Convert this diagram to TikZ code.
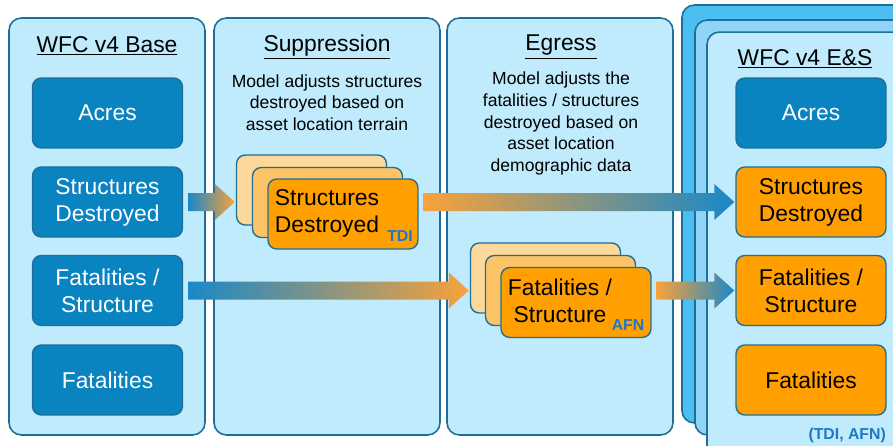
\documentclass[tikz,border=0pt]{standalone}
\usepackage{fontspec}
\setmainfont{Liberation Sans}
\usetikzlibrary{calc}

\definecolor{panelfill}{HTML}{BFEBFC}
\definecolor{edgeblue}{HTML}{1F6E98}
\definecolor{basefill}{HTML}{0A84C1}
\definecolor{orangefill}{HTML}{FFA000}
\definecolor{cardmid}{HTML}{FDC467}
\definecolor{cardback}{HTML}{FDD89B}
\definecolor{esback}{HTML}{4BBEF2}
\definecolor{esmid}{HTML}{8FD6F6}
\definecolor{arrblue}{HTML}{1A88C8}
\definecolor{arrorange}{HTML}{F9A23A}
\definecolor{tagblue}{HTML}{1F78C1}

% shaded block arrow between two nodes, kept on the level of a row node
\newcommand{\fatarrow}[5]{%
  \coordinate (fa-s) at ($(#1.east |- #3.center)+(5,0)$);
  \coordinate (fa-t) at ($(#2.west |- #3.center)+(-1,0)$);
  \shade[left color=#4, right color=#5]
    ($(fa-s)+(0,-9)$) -- ($(fa-t)+(-20,-9)$) -- ($(fa-t)+(-20,-18)$) -- (fa-t)
    -- ($(fa-t)+(-20,18)$) -- ($(fa-t)+(-20,9)$) -- ($(fa-s)+(0,9)$) -- cycle;
}

\tikzset{
  panel/.style={draw=edgeblue, fill=panelfill, line width=0.9pt, rounded corners=7pt,
    minimum width=3.92cm, minimum height=8.34cm},
  box/.style={draw=edgeblue, line width=0.8pt, rounded corners=5pt, minimum width=3cm,
    minimum height=1.4cm, align=center, font=\fontsize{13}{15.3}\selectfont},
  basebox/.style={box, fill=basefill, text=white},
  esbox/.style={box, fill=orangefill, text=black},
  card/.style={box, inner sep=0pt},
  title/.style={font=\fontsize{13}{15}\selectfont},
  note/.style={font=\fontsize{10}{12.3}\selectfont, align=center},
  tag/.style={font=\bfseries\fontsize{9}{10}\selectfont, text=tagblue},
}

\begin{document}
\begin{tikzpicture}[x=0.02cm, y=-0.02cm]
  \useasboundingbox (0,0) rectangle (893,446);
  \clip (0,0) rectangle (893,446);
  \fill[white] (0,0) rectangle (893,446);

  % panels
  \node[panel] (base) at (107,226.5) {};
  \node[panel, minimum width=4.52cm] (supp) at (327,226.5) {};
  \node[panel, minimum width=4.52cm] (egr) at (560,226.5) {};
  \node[panel, fill=esback, minimum width=4.46cm, minimum height=8.36cm] (esA) at (793.5,214) {};
  \node[panel, fill=esmid, minimum width=4.46cm, minimum height=8.3cm] (esB) at (806.5,227.5) {};
  \node[panel, minimum width=4.46cm, minimum height=8.76cm] (esC) at (818.5,251) {};

  % titles and notes
  \node[title] (baseT) at (107,46) {\underline{WFC v4 Base}};
  \node[title] (suppT) at (327,47) {\underline{Suppression}};
  \node[title] (egrT) at (561,47) {\underline{Egress}};
  \node[title] (esT) at (805,59) {\underline{WFC v4 E\&S}};
  \node[note] (suppN) at (327,102.5) {Model adjusts structures\\destroyed based on\\asset location terrain};
  \node[note] (egrN) at (561,123.5) {Model adjusts the\\fatalities / structures\\destroyed based on\\asset location\\demographic data};

  % base and E&S rows
  \foreach \n/\y/\t in {1/113/Acres, 2/202/{Structures\\Destroyed},
      3/290.5/{Fatalities /\\Structure}, 4/380/Fatalities} {
    \node[basebox] (b\n) at (107.5,\y) {\t};
  }
  \node[basebox] (e1) at (811,113) {Acres};
  \foreach \n/\y/\t in {2/202/{Structures\\Destroyed},
      3/290.5/{Fatalities /\\Structure}, 4/380/Fatalities} {
    \node[esbox] (e\n) at (811,\y) {\t};
  }
  \node[tag, anchor=east] (esTag) at (892,435) {(TDI, AFN)};

  % suppression stack
  \node[card, fill=cardback] (sA) at (311.5,190) {};
  \node[card, fill=cardmid] (sB) at (327.5,202.5) {};
  \node[card, fill=orangefill] (sC) at (343,214) {};
  \node[align=center, font=\fontsize{13}{15.3}\selectfont] (sTxt) at (327,213) {Structures\\Destroyed};
  \node[tag] (sTag) at (400,236) {TDI};

  % egress stack
  \node[card, fill=cardback] (gA) at (545.5,278) {};
  \node[card, fill=cardmid] (gB) at (560.5,290.5) {};
  \node[card, fill=orangefill] (gC) at (576,302.5) {};
  \node[align=center, font=\fontsize{13}{15.3}\selectfont] (gTxt) at (560,301) {Fatalities /\\Structure};
  \node[tag] (gTag) at (628,325) {AFN};

  % arrows
  \fatarrow{b2}{sA}{b2}{arrblue}{arrorange}
  \fatarrow{sC}{e2}{e2}{arrorange}{arrblue}
  \fatarrow{b3}{gA}{b3}{arrblue}{arrorange}
  \fatarrow{gC}{e3}{e3}{arrorange}{arrblue}
\end{tikzpicture}
\end{document}
